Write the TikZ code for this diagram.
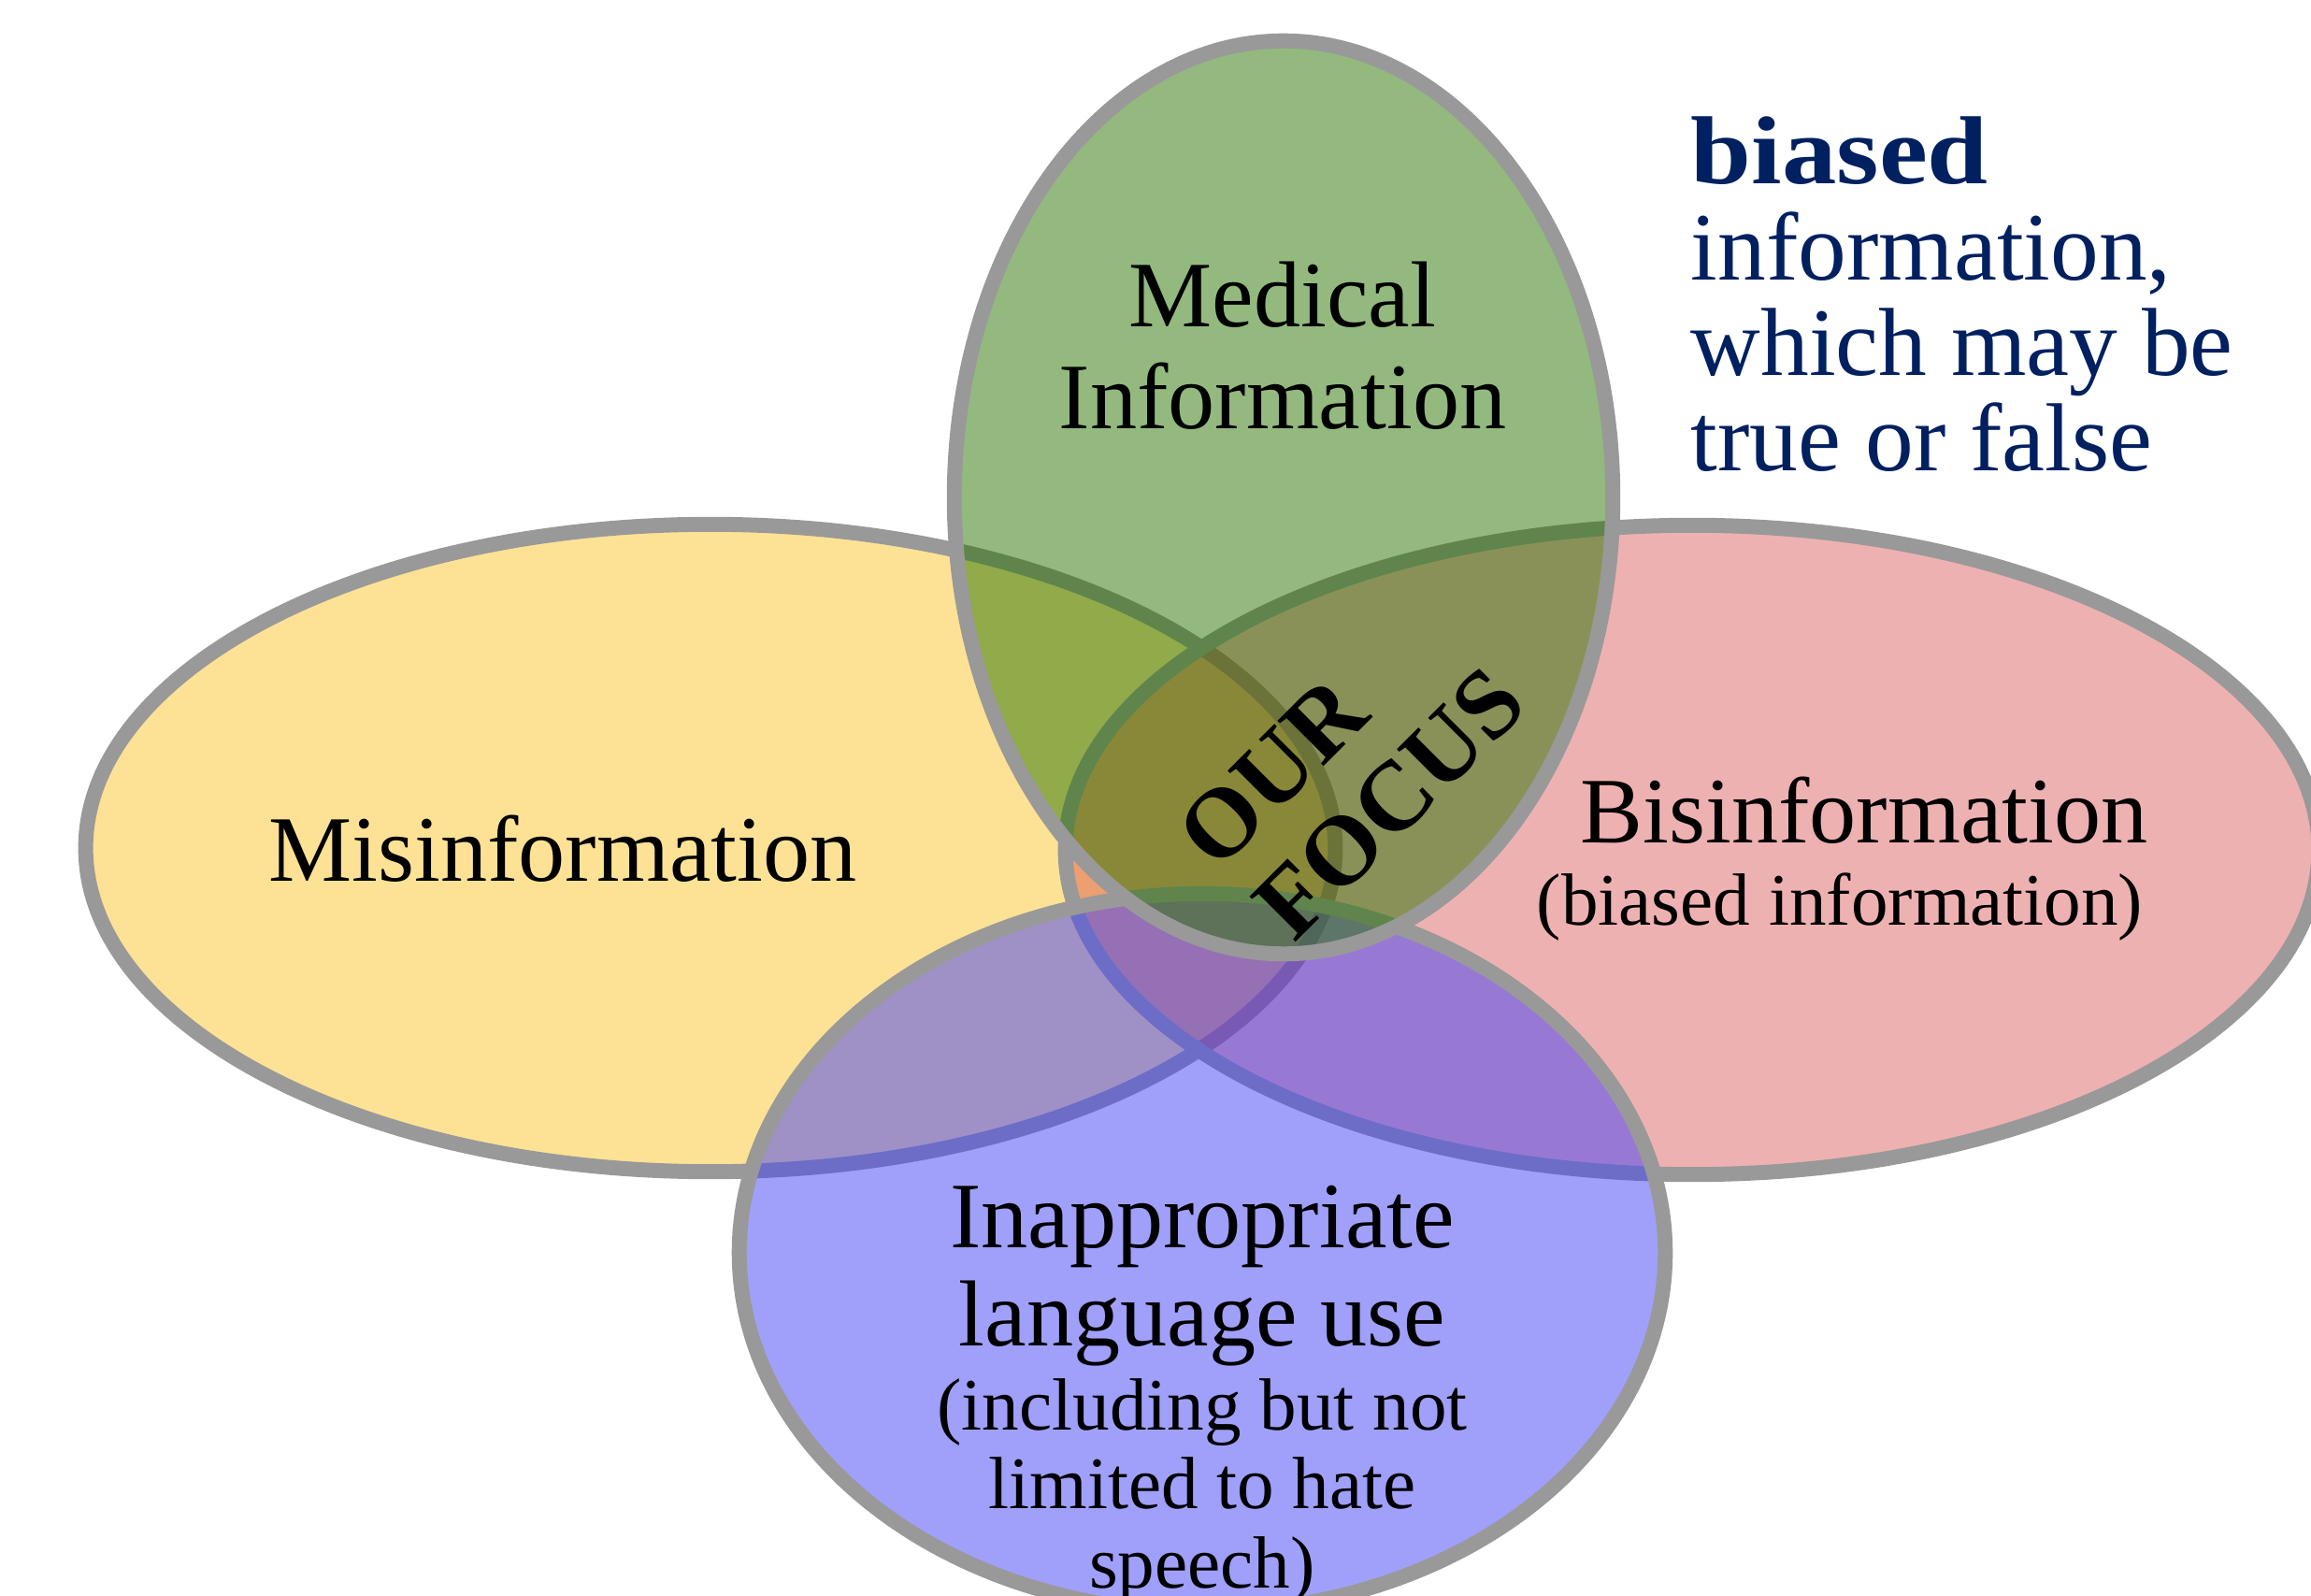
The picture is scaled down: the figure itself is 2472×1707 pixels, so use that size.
\documentclass[tikz,border=0pt]{standalone}
\usepackage{fontspec}
\setmainfont{Liberation Serif}
\definecolor{ygold}{RGB}{253,226,149}
\definecolor{pinkc}{RGB}{212,60,60}
\definecolor{bluec}{RGB}{66,66,248}
\definecolor{greenc}{RGB}{39,115,0}
\definecolor{edgegray}{RGB}{153,153,153}
\definecolor{navy}{RGB}{0,32,96}
\begin{document}
\begin{tikzpicture}[x=0.01cm,y=-0.01cm,
  venn/.style={draw=edgegray, line width=4.55pt},
  big/.style={font=\fontsize{28.5}{31}\selectfont, anchor=base, inner sep=0pt},
  small/.style={font=\fontsize{22.5}{24}\selectfont, anchor=base, inner sep=0pt},
  side/.style={font=\fontsize{29.4}{29}\selectfont, text=navy, anchor=base west, inner sep=0pt},
  focus/.style={font=\bfseries\fontsize{30}{32}\selectfont, rotate=45, anchor=base west, inner sep=0pt}]
\useasboundingbox (0,0) rectangle (2472,1707);
\clip (0,0) rectangle (2472,1707);
% sets
\path[venn, fill=ygold] (760,907) ellipse [x radius=6.68cm, y radius=3.46cm];
\path[venn, fill=pinkc, fill opacity=0.4] (1810,909) ellipse [x radius=6.70cm, y radius=3.47cm];
\path[venn, fill=bluec, fill opacity=0.5] (1286,1340) ellipse [x radius=4.95cm, y radius=3.84cm];
\path[venn, fill=greenc, fill opacity=0.5] (1373,532) ellipse [x radius=3.52cm, y radius=4.88cm];
% labels
\node[big] (med1) at (1372,350) {Medical};
\node[big] (med2) at (1372,459) {Information};
\node[big] (mis) at (602,943) {Misinformation};
\node[big] (bis1) at (1994,902) {Bisinformation};
\node[small] (bis2) at (1968,990) {(biased information)};
\node[big] (ina1) at (1286,1334) {Inappropriate};
\node[big] (ina2) at (1286,1439) {language use};
\node[small] (ina3) at (1286,1529) {(including but not};
\node[small] (ina4) at (1286,1613) {limited to hate};
\node[small] (ina5) at (1286,1698) {speech)};
\node[focus] (our) at (1302,934) {OUR};
\node[focus] (foc) at (1384,1010) {FOCUS};
\node[side] (s1) at (1808,197) {\scalebox{1.13}[1]{\bfseries biased}};
\node[side] (s2) at (1808,300) {information,};
\node[side] (s3) at (1808,402) {which may be};
\node[side] (s4) at (1808,504) {true or false};
\end{tikzpicture}
\end{document}
